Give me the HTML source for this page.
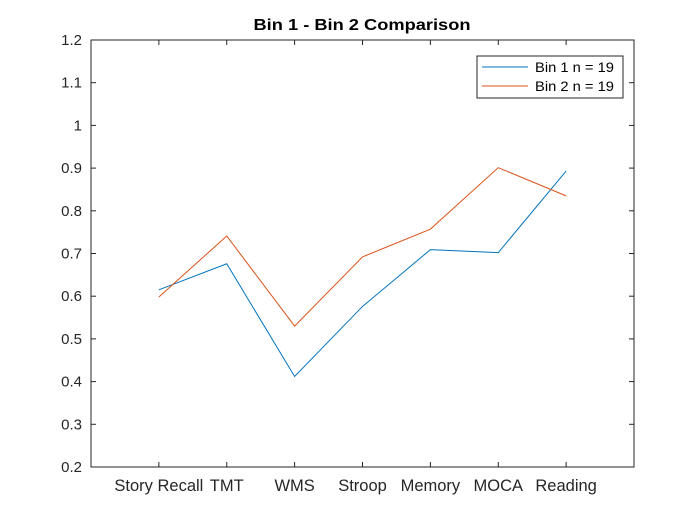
<!DOCTYPE html>
<html><head><meta charset="utf-8"><style>
body{margin:0;background:#fff;}
svg{display:block;font-family:"Liberation Sans",Arial,sans-serif;}
</style></head><body>
<svg id="chart" width="700" height="525" viewBox="0 0 700 525">
<rect x="0" y="0" width="700" height="525" fill="#fff"/>
<text x="362" y="30" text-anchor="middle" font-size="16" font-weight="bold" fill="#000" textLength="217" lengthAdjust="spacingAndGlyphs">Bin 1 - Bin 2 Comparison</text>
<g id="axes"></g>
<g id="series"></g>
<g>
<rect x="477" y="56" width="146" height="42" fill="#fff" stroke="#262626" stroke-width="1"/>
<line x1="482" y1="67" x2="528" y2="67" stroke="#0072BD" stroke-width="1"/>
<text x="535" y="72" font-size="14" fill="#000" textLength="79" lengthAdjust="spacingAndGlyphs">Bin 1 n = 19</text>
<line x1="482" y1="86" x2="528" y2="86" stroke="#D95319" stroke-width="1"/>
<text x="535" y="91" font-size="14" fill="#000" textLength="79" lengthAdjust="spacingAndGlyphs">Bin 2 n = 19</text>
</g>
</svg>
<script>
const categories=["Story Recall","TMT","WMS","Stroop","Memory","MOCA","Reading"];
const bin1=[0.615,0.676,0.412,0.576,0.709,0.702,0.893];
const bin2=[0.598,0.741,0.530,0.692,0.757,0.901,0.835];
const yTicks=[0.2,0.3,0.4,0.5,0.6,0.7,0.8,0.9,1,1.1,1.2];
const L=91,R=634,T=40,B=467;
const xS=i=>L+(i+1)*(R-L)/(categories.length+1);
const yS=v=>B-(v-0.2)/(1.0)*(B-T);
const NS="http://www.w3.org/2000/svg";
const ax=document.getElementById('axes'),se=document.getElementById('series');
function mk(tag,attrs,parent){const e=document.createElementNS(NS,tag);for(const k in attrs)e.setAttribute(k,attrs[k]);parent.appendChild(e);return e;}
const box=mk('rect',{x:L,y:T,width:R-L,height:B-T,fill:'none',stroke:'#262626','stroke-width':1},ax);


yTicks.forEach(v=>{const y=yS(v);
mk('line',{x1:L,y1:y,x2:L+5,y2:y,stroke:'#262626'},ax);
mk('line',{x1:R,y1:y,x2:R-5,y2:y,stroke:'#262626'},ax);
const t=mk('text',{x:L-9,y:y+5,'text-anchor':'end','font-size':15,fill:'#262626'},ax);t.textContent=String(v);

});
categories.forEach((c,i)=>{const x=xS(i);
mk('line',{x1:x,y1:B,x2:x,y2:B-5,stroke:'#262626'},ax);
mk('line',{x1:x,y1:T,x2:x,y2:T+5,stroke:'#262626'},ax);
const t=mk('text',{x:x,y:B+24,'text-anchor':'middle','font-size':16.5,fill:'#262626'},ax);t.textContent=c;

});
[[bin1,'#0072BD','bin1-line'],[bin2,'#D95319','bin2-line']].forEach(([d,c,n])=>{
const p=mk('polyline',{points:d.map((v,i)=>xS(i)+','+yS(v)).join(' '),fill:'none',stroke:c,'stroke-width':1},se);

});
</script>
</body></html>
